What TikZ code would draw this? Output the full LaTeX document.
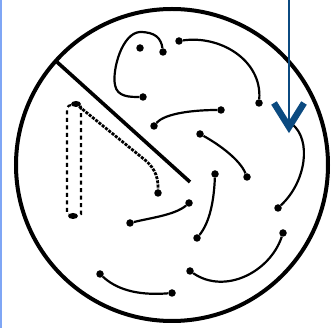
\documentclass[tikz,border=0pt]{standalone}
\usetikzlibrary{shapes.geometric}
\begin{document}
\begin{tikzpicture}[x=1pt,y=-1pt,
  dotn/.style={circle,fill=black,inner sep=0pt,minimum size=7.5pt},
  curve/.style={line width=2.2pt,black},
  dashline/.style={line width=2.2pt,dash pattern=on 4pt off 3.5pt},
  roughline/.style={line width=2.8pt,dash pattern=on 3pt off 1.2pt}]
\definecolor{arrowblue}{HTML}{0B4A80}
\definecolor{edgeblue}{HTML}{7FA6F5}
\useasboundingbox (0,0) rectangle (335,328);
\fill[white] (0,0) rectangle (335,328);
% left edge line
\coordinate (e1) at (0.8,0); \coordinate (e2) at (0.8,328);
\draw[edgeblue,line width=1.6pt] (e1) -- (e2);
% big circle
\node[circle,draw,line width=4pt,minimum size=312pt,inner sep=0pt] (dish) at (172,165) {};
% diagonal line
\coordinate (g1) at (57,62); \coordinate (g2) at (190,182);
\draw[line width=3.6pt] (g1) -- (g2);
% dots
\node[dotn] (d0) at (140,48) {};
\node[dotn] (d1) at (163,52) {};
\node[dotn] (d2) at (143,97) {};
\node[dotn] (d3) at (179,41) {};
\node[dotn] (d4) at (259,103) {};
\coordinate (c3) at (292,124);
\node[dotn] (d5) at (278,208) {};
\node[dotn] (d6) at (221,110) {};
\node[dotn] (d7) at (154,126) {};
\node[dotn] (d8) at (200,134) {};
\node[dotn] (d9) at (247,177) {};
\node[dotn,ellipse,minimum width=10pt,minimum height=6pt] (d10) at (76,104) {};
\node[dotn] (d11) at (158,193) {};
\node[dotn,ellipse,minimum width=10pt,minimum height=6pt] (d12) at (73,216) {};
\node[dotn] (d13) at (189,203) {};
\node[dotn] (d14) at (130,223) {};
\node[dotn] (d15) at (215,174) {};
\node[dotn] (d16) at (197,238) {};
\node[dotn] (d17) at (283,233) {};
\node[dotn] (d18) at (190,271) {};
\node[dotn] (d19) at (100,274) {};
\node[dotn] (d20) at (172,293) {};
% curves
\draw[curve] (d1) .. controls (161,38) and (155,32) .. (140,32)
  .. controls (122,33) and (112,70) .. (115,85)
  .. controls (117,97) and (130,97) .. (d2);
\draw[curve] (d3) .. controls (220,35) and (262,60) .. (d4);
\draw[curve] (c3) .. controls (312,140) and (306,182) .. (d5);
\draw[curve] (d6) .. controls (195,110) and (165,113) .. (d7);
\draw[curve] (d8) .. controls (220,145) and (240,160) .. (d9);
\draw[roughline] (d10) -- (145,160) .. controls (157,170) and (158,180) .. (d11);
\draw[dashline] (d10) .. controls (67,106) .. (67,118) -- (67,214) -- (d12);
\draw[dashline] (d10) .. controls (81,106) .. (81,118) -- (81,214) -- (d12);
\draw[curve] (d13) .. controls (175,215) and (150,218) .. (d14);
\draw[curve] (d15) .. controls (214,200) and (210,222) .. (d16);
\draw[curve] (d17) .. controls (270,272) and (225,295) .. (d18);
\draw[curve] (d19) .. controls (115,288) and (135,296) .. (d20);
% blue arrow
\coordinate (atop) at (289,-2); \coordinate (atip) at (289,127);
\draw[arrowblue,line width=2.2pt] (atop) -- (atip);
\draw[arrowblue,line width=6.5pt,line join=miter,miter limit=10] (274,103) -- (atip) -- (304,103);
\end{tikzpicture}
\end{document}
